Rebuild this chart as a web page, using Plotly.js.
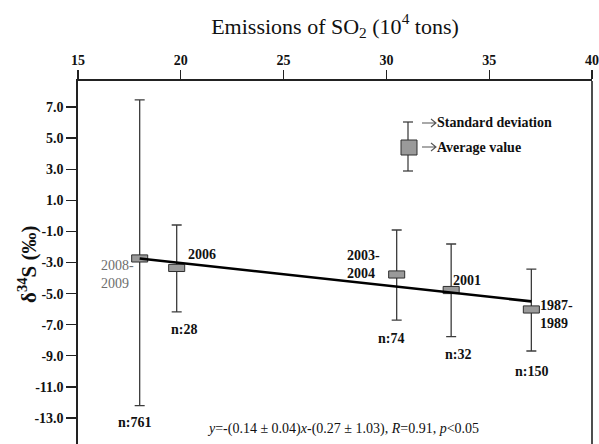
<!DOCTYPE html>
<html>
<head>
<meta charset="utf-8">
<script src="https://cdn.plot.ly/plotly-3.0.1.min.js"></script>
<style>html,body{margin:0;padding:0;background:#fff;}#chart{width:599px;height:444px;}</style>
</head>
<body>
<div id="chart"></div>
<script>
// ---- data ----
const periods   = ["2008-2009", "2006", "2003-2004", "2001", "1987-1989"];
const emissions = [18.0, 19.8, 30.5, 33.15, 37.05];       // 10^4 tons
const meanD34S  = [-2.74, -3.35, -3.77, -4.77, -6.02];     // average value
const sdUpper   = [7.45, -0.59, -0.91, -1.81, -3.42];      // top of SD bar
const sdLower   = [-12.2, -6.18, -6.7, -7.77, -8.69];      // bottom of SD bar
const sampleN   = ["n:761", "n:28", "n:74", "n:32", "n:150"];
const fitX      = [18.0, 37.05];
const fitY      = [-2.74, -5.5];
const xTicks    = [15, 20, 25, 30, 35, 40];
const yTickVals = [7, 5, 3, 1, -1, -3, -5, -7, -9, -11, -13];
const yTickText = ["7.0", "5.0", "3.0", "1.0", "-1.0", "-3.0", "-5.0", "-7.0", "-9.0", "-11.0", "-13.0"];

// ---- layout helpers (pixel -> paper) ----
const L = 78, R = 592, T = 81, B = 444;
const px = x => (x - L) / (R - L);
const py = y => (B - y) / (B - T);
const SERIF = "Liberation Serif";

// error bars
const errTrace = {
  x: emissions, y: meanD34S, type: "scatter", mode: "markers",
  marker: {size: 1, color: "rgba(0,0,0,0)"},
  error_y: {
    type: "data", symmetric: false,
    array: sdUpper.map((u, i) => u - meanD34S[i]),
    arrayminus: meanD34S.map((m, i) => m - sdLower[i]),
    color: "#3c3c3c", thickness: 1.3, width: 5
  },
  hoverinfo: "skip", showlegend: false
};

// average-value boxes (rectangles around each mean)
const hw = 0.39, hh = 0.23;
const bx = [], by = [];
emissions.forEach((x, i) => {
  const m = meanD34S[i];
  bx.push(x - hw, x + hw, x + hw, x - hw, x - hw, null);
  by.push(m - hh, m - hh, m + hh, m + hh, m - hh, null);
});
const boxTrace = {
  x: bx, y: by, type: "scatter", mode: "lines", fill: "toself",
  fillcolor: "#9a9a9a", line: {color: "#2e2e2e", width: 1},
  hoverinfo: "skip", showlegend: false
};

const fitTrace = {
  x: fitX, y: fitY, type: "scatter", mode: "lines",
  line: {color: "#000", width: 2.6}, hoverinfo: "skip", showlegend: false
};

function ann(text, x, y, opts) {
  return Object.assign({
    text: text, xref: "paper", yref: "paper", x: px(x), y: py(y),
    xanchor: "left", yanchor: "middle", showarrow: false, align: "left",
    font: {family: SERIF, size: 14, color: "#111", weight: "bold"}
  }, opts || {});
}

const annotations = [
  ann("2008-<br>2009", 99, 274.5, {font: {family: SERIF, size: 14, color: "#6e6e6e"}}),
  ann("2006", 186, 254),
  ann("2003-<br>2004", 345, 264.5),
  ann("2001", 451, 280),
  ann("1987-<br>1989", 538, 314.5),
  ann(sampleN[0], 116, 422),
  ann(sampleN[1], 169, 329),
  ann(sampleN[2], 376, 338),
  ann(sampleN[3], 443, 354),
  ann(sampleN[4], 513, 371),
  ann("<i>y</i>=-(0.14 ± 0.04)<i>x</i>-(0.27 ± 1.03), <i>R</i>=0.91, <i>p</i>&lt;0.05", 205, 429,
      {font: {family: SERIF, size: 14, color: "#111"}}),
  ann("Standard deviation", 435, 123, {font: {family: SERIF, size: 14, color: "#111", weight: "bold"}}),
  ann("Average value", 435, 147, {font: {family: SERIF, size: 14, color: "#111", weight: "bold"}}),
  // y-axis title
  {text: "δ<sup>34</sup>S (‰)", xref: "paper", yref: "paper", x: px(27), y: py(264),
   xanchor: "center", yanchor: "middle", showarrow: false, textangle: -90,
   font: {family: SERIF, size: 21, color: "#111", weight: "bold"}}
];

function arrowPath(x0, x1, y) {
  return "M " + px(x0) + " " + py(y) + " L " + px(x1) + " " + py(y) +
         " M " + px(x1 - 5) + " " + py(y - 4) + " L " + px(x1) + " " + py(y) +
         " L " + px(x1 - 5) + " " + py(y + 4);
}

const shapes = [
  // right border
  {type: "line", xref: "paper", yref: "paper", x0: 1, x1: 1, y0: 0, y1: 1,
   line: {color: "#222", width: 1.6}},
  // legend glyph
  {type: "line", xref: "paper", yref: "paper", x0: px(408), x1: px(408), y0: py(122), y1: py(171),
   line: {color: "#333", width: 1.2}},
  {type: "line", xref: "paper", yref: "paper", x0: px(403), x1: px(413), y0: py(122), y1: py(122),
   line: {color: "#333", width: 1.2}},
  {type: "line", xref: "paper", yref: "paper", x0: px(403), x1: px(413), y0: py(171), y1: py(171),
   line: {color: "#333", width: 1.2}},
  {type: "rect", xref: "paper", yref: "paper", x0: px(401), x1: px(417), y0: py(155), y1: py(140),
   fillcolor: "#9a9a9a", line: {color: "#2e2e2e", width: 1}},
  // legend arrows
  {type: "path", xref: "paper", yref: "paper", path: arrowPath(422, 436, 123),
   line: {color: "#555", width: 1.1}},
  {type: "path", xref: "paper", yref: "paper", path: arrowPath(422, 436, 147),
   line: {color: "#555", width: 1.1}}
];

const layout = {
  width: 599, height: 444,
  margin: {l: L, r: 599 - R, t: T, b: 0, pad: 0},
  paper_bgcolor: "#fff", plot_bgcolor: "#fff",
  title: {
    text: "Emissions of SO<sub>2</sub> (10<sup>4</sup> tons)",
    font: {family: SERIF, size: 22, color: "#111"},
    xref: "paper", x: 0.5, xanchor: "center",
    yref: "container", y: 1 - 26 / 444, yanchor: "middle"
  },
  xaxis: {
    side: "top", range: [15, 40], tickvals: xTicks, ticktext: xTicks.map(String),
    ticks: "outside", ticklen: 9, tickwidth: 1.3, tickcolor: "#222",
    showline: true, linecolor: "#222", linewidth: 1.6, showgrid: false, zeroline: false,
    tickfont: {family: SERIF, size: 14, color: "#111", weight: "bold"}
  },
  yaxis: {
    range: [-14.67, 8.67], tickvals: yTickVals, ticktext: yTickText,
    ticks: "outside", ticklen: 10, tickwidth: 1.3, tickcolor: "#222",
    showline: true, linecolor: "#222", linewidth: 1.6, showgrid: false, zeroline: false,
    tickfont: {family: SERIF, size: 14, color: "#111", weight: "bold"}
  },
  annotations: annotations,
  shapes: shapes,
  showlegend: false
};

Plotly.newPlot("chart", [errTrace, boxTrace, fitTrace], layout, {displayModeBar: false, staticPlot: true});
</script>
</body>
</html>
